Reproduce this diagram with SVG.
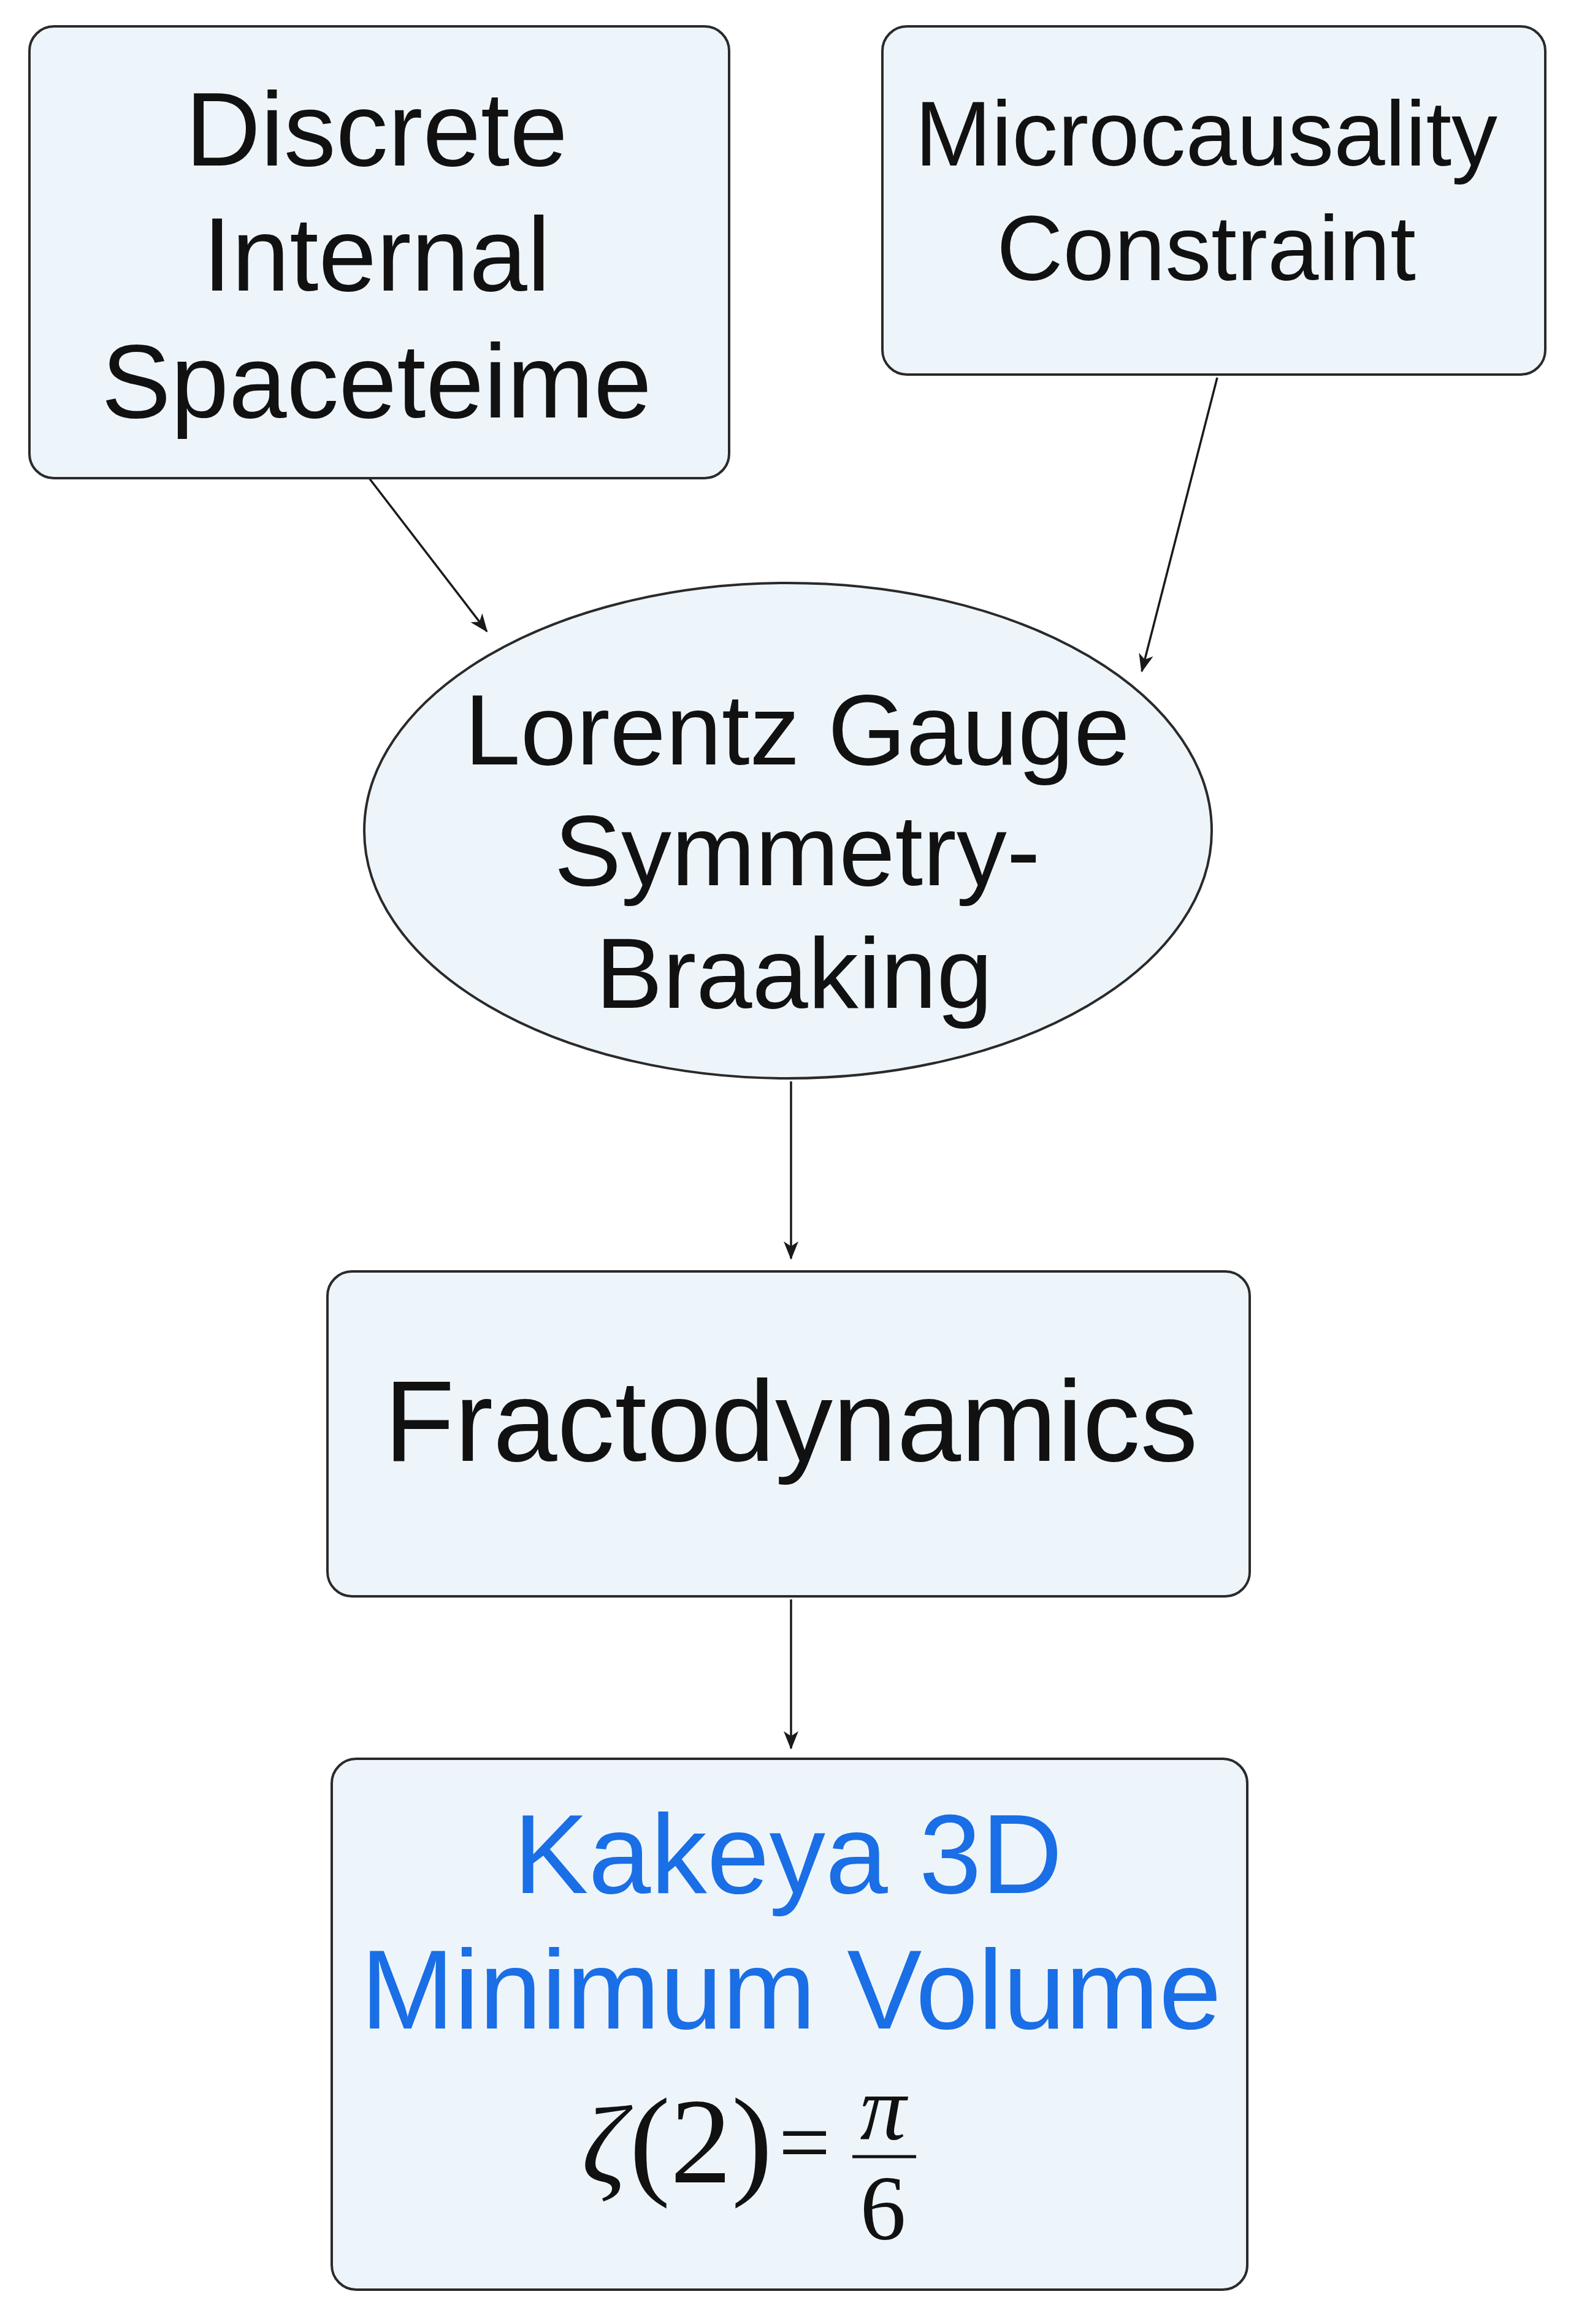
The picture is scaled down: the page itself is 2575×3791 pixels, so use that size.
<svg xmlns="http://www.w3.org/2000/svg" width="2575" height="3791" viewBox="0 0 2575 3791">
<style>
.n{fill:#eef5fa;stroke:#2a2a2a;stroke-width:4}
.t{font-family:"Liberation Sans",Arial,sans-serif;fill:#111;text-anchor:middle}
.c{stroke:#1a1a1a;stroke-width:3.5;fill:none}
.m{font-family:"Liberation Serif","Times New Roman",serif;fill:#111;text-anchor:middle}
</style>
<defs>
<marker id="b" markerWidth="30" markerHeight="30" refX="28" refY="12" orient="auto" markerUnits="userSpaceOnUse" viewBox="0 0 30 24"><path d="M0,0 L30,12 L0,24 L8,12 Z" fill="#1a1a1a"/></marker></defs>
<rect width="2575" height="3791" fill="#fff"/>
<g id="connectors">
<line x1="602" y1="780" x2="794" y2="1030" class="c" marker-end="url(#b)"/>
<line x1="1985" y1="616" x2="1862" y2="1095" class="c" marker-end="url(#b)"/>
<line x1="1290" y1="1764" x2="1290" y2="2053" class="c" marker-end="url(#b)"/>
<line x1="1290" y1="2609" x2="1290" y2="2852" class="c" marker-end="url(#b)"/>
</g>
<g id="n1"><rect x="48" y="43" width="1141" height="737" rx="40" class="n"/>
<text class="t" font-size="170"><tspan x="614" y="270">Discrete</tspan><tspan x="614" y="474">Internal</tspan><tspan x="614" y="681">Spaceteime</tspan></text></g>
<g id="n2"><rect x="1439" y="43" width="1081" height="568" rx="40" class="n"/>
<text class="t" font-size="150"><tspan x="1967" y="270">Microcausality</tspan><tspan x="1967" y="457">Constraint</tspan></text></g>
<g id="n3"><ellipse cx="1285" cy="1355" rx="691" ry="404" class="n"/>
<text class="t" font-size="164"><tspan x="1300" y="1247">Lorentz Gauge</tspan><tspan x="1300" y="1444">Symmetry-</tspan><tspan x="1295" y="1644">Braaking</tspan></text></g>
<g id="n4"><rect x="534" y="2074" width="1504" height="530" rx="40" class="n"/>
<text class="t" font-size="188" x="1290" y="2383">Fractodynamics</text></g>
<g id="n5"><rect x="541" y="2869" width="1493" height="866" rx="40" class="n"/>
<text class="t" font-size="183" style="fill:#1a6ee6"><tspan x="1285" y="3088">Kakeya 3D</tspan><tspan x="1290" y="3309">Minimum Volume</tspan></text>
<text class="m" font-size="180" font-style="italic" x="985" y="3560">ζ</text>
<text class="m" font-size="200" x="1143" y="3560">(2)</text>
<text class="m" font-size="150" x="1312" y="3545">=</text>
<text class="m" font-size="150" font-style="italic" x="1440" y="3490">π</text>
<line x1="1390" y1="3518" x2="1494" y2="3518" stroke="#111" stroke-width="5"/>
<text class="m" font-size="150" x="1440" y="3653">6</text></g>
</svg>
